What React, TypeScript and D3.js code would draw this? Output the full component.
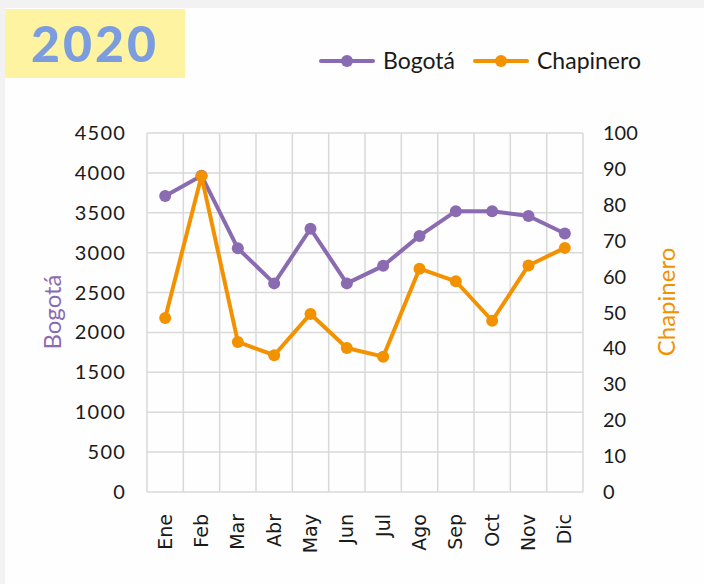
import { useEffect, useRef } from "react";
import * as d3 from "d3";

const months = ["Ene", "Feb", "Mar", "Abr", "May", "Jun", "Jul", "Ago", "Sep", "Oct", "Nov", "Dic"];
const bogota = [3710, 3965, 3055, 2615, 3300, 2615, 2835, 3210, 3520, 3520, 3460, 3240];
const chapinero = [48.5, 88, 41.8, 38.1, 49.6, 40.1, 37.7, 62.2, 58.7, 47.7, 63.1, 68];
const leftTicks = [0, 500, 1000, 1500, 2000, 2500, 3000, 3500, 4000, 4500];
const rightTicks = [0, 10, 20, 30, 40, 50, 60, 70, 80, 90, 100];

const purple = "#8a6bb1";
const orange = "#f39200";

function App() {
    const svgRef = useRef<SVGSVGElement>(null);
    const width = 704, height = 584;
    const plot = { left: 147, right: 583, top: 133, bottom: 492 };

    useEffect(() => {
        const svg = d3.select(svgRef.current);
        svg.selectAll("*").remove();

        svg.append("rect").attr("width", width).attr("height", height).attr("fill", "#f2f2f2");
        svg.append("rect").attr("x", 5).attr("y", 8).attr("width", width - 5).attr("height", height - 8).attr("fill", "#fefefe");
        svg.append("rect").attr("x", 5).attr("y", 9).attr("width", 180).attr("height", 69).attr("fill", "#fdf3a1");
        svg.append("text")
            .attr("x", 95).attr("y", 62)
            .attr("text-anchor", "middle")
            .attr("font-family", "Lato")
            .attr("font-weight", 900)
            .attr("font-size", 50)
            .attr("letter-spacing", 3)
            .attr("fill", "#7b9de0")
            .text("2020");

        const x = d3.scaleBand().domain(months).range([plot.left, plot.right]);
        const yL = d3.scaleLinear().domain([0, 4500]).range([plot.bottom, plot.top]);
        const yR = d3.scaleLinear().domain([0, 100]).range([plot.bottom, plot.top]);

        // grid
        const grid = svg.append("g").attr("stroke", "#d9d9d9").attr("stroke-width", 1.5);
        leftTicks.forEach(t => {
            grid.append("line").attr("x1", plot.left).attr("x2", plot.right).attr("y1", yL(t)).attr("y2", yL(t));
        });
        months.forEach(m => {
            grid.append("line").attr("x1", x(m)!).attr("x2", x(m)!).attr("y1", plot.top).attr("y2", plot.bottom);
        });
        grid.append("line").attr("x1", plot.right).attr("x2", plot.right).attr("y1", plot.top).attr("y2", plot.bottom);

        // left ticks
        svg.append("g").selectAll("text").data(leftTicks).enter().append("text")
            .attr("x", 126).attr("y", d => yL(d)).attr("dy", "0.35em")
            .attr("text-anchor", "end")
            .attr("font-family", "Lato").attr("font-size", 20).attr("letter-spacing", 1.2)
            .attr("fill", "#1a1a1a")
            .text(d => d);

        svg.append("g").selectAll("text").data(rightTicks).enter().append("text")
            .attr("x", 603).attr("y", d => yR(d)).attr("dy", "0.35em")
            .attr("font-family", "Lato").attr("font-size", 20)
            .attr("fill", "#1a1a1a")
            .text(d => d);

        // month labels
        svg.append("g").selectAll("text").data(months).enter().append("text")
            .attr("transform", d => `translate(${x(d)! + x.bandwidth() / 2 + 6.5}, 514) rotate(-90)`)
            .attr("text-anchor", "end")
            .attr("font-family", "DejaVu Sans").attr("font-size", 19)
            .attr("fill", "#1a1a1a")
            .text(d => d);

        // axis titles
        svg.append("text")
            .attr("transform", `translate(61, 312) rotate(-90)`)
            .attr("text-anchor", "middle")
            .attr("font-family", "Lato").attr("font-size", 24)
            .attr("fill", purple)
            .text("Bogotá");
        svg.append("text")
            .attr("transform", `translate(675, 302) rotate(-90)`)
            .attr("text-anchor", "middle")
            .attr("font-family", "Lato").attr("font-size", 24)
            .attr("fill", orange)
            .text("Chapinero");

        const cx = (m: string) => x(m)! + x.bandwidth() / 2;
        const series = [
            { values: bogota, y: yL, color: purple },
            { values: chapinero, y: yR, color: orange },
        ];
        series.forEach(s => {
            const line = d3.line<number>().x((_, i) => cx(months[i])).y(d => s.y(d));
            svg.append("path").attr("d", line(s.values)).attr("fill", "none")
                .attr("stroke", s.color).attr("stroke-width", 4).attr("stroke-linejoin", "round");
            svg.append("g").selectAll("circle").data(s.values).enter().append("circle")
                .attr("cx", (_, i) => cx(months[i])).attr("cy", d => s.y(d)).attr("r", 6)
                .attr("fill", s.color);
        });

        // legend
        const legend = [
            { name: "Bogotá", color: purple, x: 321 },
            { name: "Chapinero", color: orange, x: 475 },
        ];
        legend.forEach(l => {
            const g = svg.append("g").attr("transform", `translate(${l.x}, 61)`);
            g.append("line").attr("x1", 0).attr("x2", 52).attr("stroke", l.color).attr("stroke-width", 4).attr("stroke-linecap", "round");
            g.append("circle").attr("cx", 26).attr("r", 6).attr("fill", l.color);
            g.append("text").attr("x", 62).attr("dy", "0.35em")
                .attr("font-family", "Lato").attr("font-size", 23).attr("fill", "#1a1a1a")
                .text(l.name);
        });
    }, []);

    return <svg ref={svgRef} width={width} height={height} style={{ position: "absolute", left: 0, top: 0 }}></svg>;
}

export default App;
